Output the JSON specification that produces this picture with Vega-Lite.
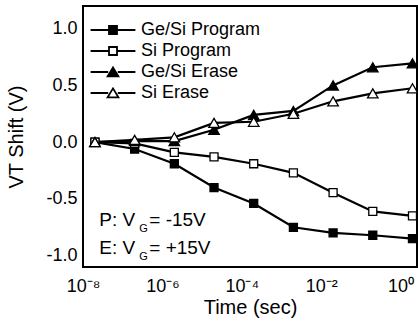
{
  "$schema": "https://vega.github.io/schema/vega-lite/v6.json",
  "width": 334,
  "height": 261,
  "autosize": "none",
  "padding": {"left": 83, "top": 6, "right": 1, "bottom": 63},
  "background": "white",
  "config": {
    "view": {"stroke": "black", "strokeWidth": 2},
    "font": "Liberation Sans",
    "axis": {"grid": false, "domain": false, "tickColor": "black", "tickWidth": 1.5, "labelColor": "black", "titleColor": "black", "labelFont": "Liberation Sans", "titleFont": "Liberation Sans", "titleFontWeight": "normal"}
  },
  "data": {"values": [
    {"time": 2e-8, "vt": 0.0, "series": "Ge/Si Program"},
    {"time": 2e-7, "vt": -0.06, "series": "Ge/Si Program"},
    {"time": 2e-6, "vt": -0.19, "series": "Ge/Si Program"},
    {"time": 2e-5, "vt": -0.40, "series": "Ge/Si Program"},
    {"time": 2e-4, "vt": -0.54, "series": "Ge/Si Program"},
    {"time": 2e-3, "vt": -0.75, "series": "Ge/Si Program"},
    {"time": 2e-2, "vt": -0.80, "series": "Ge/Si Program"},
    {"time": 0.2, "vt": -0.82, "series": "Ge/Si Program"},
    {"time": 2, "vt": -0.85, "series": "Ge/Si Program"},
    {"time": 2e-8, "vt": 0.0, "series": "Si Program"},
    {"time": 2e-7, "vt": -0.01, "series": "Si Program"},
    {"time": 2e-6, "vt": -0.09, "series": "Si Program"},
    {"time": 2e-5, "vt": -0.13, "series": "Si Program"},
    {"time": 2e-4, "vt": -0.19, "series": "Si Program"},
    {"time": 2e-3, "vt": -0.27, "series": "Si Program"},
    {"time": 2e-2, "vt": -0.445, "series": "Si Program"},
    {"time": 0.2, "vt": -0.61, "series": "Si Program"},
    {"time": 2, "vt": -0.65, "series": "Si Program"},
    {"time": 2e-8, "vt": 0.0, "series": "Ge/Si Erase"},
    {"time": 2e-7, "vt": 0.01, "series": "Ge/Si Erase"},
    {"time": 2e-6, "vt": 0.01, "series": "Ge/Si Erase"},
    {"time": 2e-5, "vt": 0.11, "series": "Ge/Si Erase"},
    {"time": 2e-4, "vt": 0.24, "series": "Ge/Si Erase"},
    {"time": 2e-3, "vt": 0.275, "series": "Ge/Si Erase"},
    {"time": 2e-2, "vt": 0.50, "series": "Ge/Si Erase"},
    {"time": 0.2, "vt": 0.66, "series": "Ge/Si Erase"},
    {"time": 2, "vt": 0.695, "series": "Ge/Si Erase"},
    {"time": 2e-8, "vt": 0.0, "series": "Si Erase"},
    {"time": 2e-7, "vt": 0.02, "series": "Si Erase"},
    {"time": 2e-6, "vt": 0.043, "series": "Si Erase"},
    {"time": 2e-5, "vt": 0.17, "series": "Si Erase"},
    {"time": 2e-4, "vt": 0.18, "series": "Si Erase"},
    {"time": 2e-3, "vt": 0.25, "series": "Si Erase"},
    {"time": 2e-2, "vt": 0.36, "series": "Si Erase"},
    {"time": 0.2, "vt": 0.43, "series": "Si Erase"},
    {"time": 2, "vt": 0.475, "series": "Si Erase"}
  ]},
  "resolve": {"axis": {"x": "independent", "y": "independent"}, "scale": {"shape": "independent", "fill": "independent"}},
  "layer": [
    {
      "mark": {"type": "line", "color": "black", "strokeWidth": 2.2},
      "encoding": {
        "x": {"field": "time", "type": "quantitative",
          "scale": {"type": "log", "domain": [1e-8, 2.6], "nice": false},
          "axis": {"orient": "bottom",
            "values": [1e-8,2e-8,3e-8,4e-8,5e-8,6e-8,7e-8,8e-8,9e-8,1e-7,2e-7,3e-7,4e-7,5e-7,6e-7,7e-7,8e-7,9e-7,1e-6,2e-6,3e-6,4e-6,5e-6,6e-6,7e-6,8e-6,9e-6,1e-5,2e-5,3e-5,4e-5,5e-5,6e-5,7e-5,8e-5,9e-5,1e-4,2e-4,3e-4,4e-4,5e-4,6e-4,7e-4,8e-4,9e-4,1e-3,2e-3,3e-3,4e-3,5e-3,6e-3,7e-3,8e-3,9e-3,1e-2,2e-2,3e-2,4e-2,5e-2,6e-2,7e-2,8e-2,9e-2,0.1,0.2,0.3,0.4,0.5,0.6,0.7,0.8,0.9,1,2],
            "tickSize": 0,
            "labelExpr": "abs(log(datum.value)/LN10 - round(log(datum.value)/LN10)) < 0.001 && {'-8':'10⁻⁸','-6':'10⁻⁶','-4':'10⁻⁴','-2':'10⁻²','0':'10⁰'}['' + round(log(datum.value)/LN10)] ? {'-8':'10⁻⁸','-6':'10⁻⁶','-4':'10⁻⁴','-2':'10⁻²','0':'10⁰'}['' + round(log(datum.value)/LN10)] : ''",
            "labelFontSize": 18, "labelPadding": 10, "labelFlush": false, "labelOverlap": false, "labelBound": false,
            "title": "Time (sec)", "titleFontSize": 20, "titlePadding": 2,
            "encode": {"ticks": {"update": {"y": {"value": 0}, "y2": {"signal": "abs(log(datum.value)/LN10 - round(log(datum.value)/LN10)) < 0.001 ? -7 : -4"}}}}
          }
        },
        "y": {"field": "vt", "type": "quantitative",
          "scale": {"domain": [-1.1, 1.2], "nice": false, "zero": false},
          "axis": {"orient": "left",
            "values": [-1, -0.75, -0.5, -0.25, 0, 0.25, 0.5, 0.75, 1],
            "tickSize": 0,
            "labelExpr": "abs(datum.value*2 - round(datum.value*2)) < 0.001 ? (datum.value < 0 ? '-' : '') + format(abs(datum.value), '.1f') : ''",
            "labelFontSize": 18, "labelPadding": 6, "labelOverlap": false, "labelBound": false, "labelFlush": false,
            "title": "VT Shift (V)", "titleFontSize": 20, "titlePadding": 19,
            "encode": {"ticks": {"update": {"x": {"value": 0}, "x2": {"signal": "abs(datum.value*2 - round(datum.value*2)) < 0.001 ? 7 : 4"}}}}
          }
        },
        "detail": {"field": "series"}
      }
    },
    {
      "mark": {"type": "point", "filled": true, "stroke": "black", "strokeWidth": 1.3, "opacity": 1},
      "encoding": {
        "x": {"field": "time", "type": "quantitative",
          "axis": {"orient": "top",
            "values": [1e-8,2e-8,3e-8,4e-8,5e-8,6e-8,7e-8,8e-8,9e-8,1e-7,2e-7,3e-7,4e-7,5e-7,6e-7,7e-7,8e-7,9e-7,1e-6,2e-6,3e-6,4e-6,5e-6,6e-6,7e-6,8e-6,9e-6,1e-5,2e-5,3e-5,4e-5,5e-5,6e-5,7e-5,8e-5,9e-5,1e-4,2e-4,3e-4,4e-4,5e-4,6e-4,7e-4,8e-4,9e-4,1e-3,2e-3,3e-3,4e-3,5e-3,6e-3,7e-3,8e-3,9e-3,1e-2,2e-2,3e-2,4e-2,5e-2,6e-2,7e-2,8e-2,9e-2,0.1,0.2,0.3,0.4,0.5,0.6,0.7,0.8,0.9,1,2],
            "labels": false, "title": null, "tickSize": 0,
            "encode": {"ticks": {"update": {"y": {"value": 0}, "y2": {"signal": "abs(log(datum.value)/LN10 - round(log(datum.value)/LN10)) < 0.001 ? 7 : 4"}}}}
          }
        },
        "y": {"field": "vt", "type": "quantitative",
          "axis": {"orient": "right",
            "values": [-1, -0.75, -0.5, -0.25, 0, 0.25, 0.5, 0.75, 1],
            "labels": false, "title": null, "tickSize": 0,
            "encode": {"ticks": {"update": {"x": {"value": 0}, "x2": {"signal": "abs(datum.value*2 - round(datum.value*2)) < 0.001 ? -7 : -4"}}}}
          }
        },
        "shape": {"field": "series", "type": "nominal",
          "scale": {"domain": ["Ge/Si Program", "Si Program", "Ge/Si Erase", "Si Erase"], "range": ["square", "square", "triangle-up", "triangle-up"]},
          "legend": null
        },
        "fill": {"field": "series", "type": "nominal",
          "scale": {"domain": ["Ge/Si Program", "Si Program", "Ge/Si Erase", "Si Erase"], "range": ["black", "white", "black", "white"]},
          "legend": null
        },
        "size": {"condition": {"test": "indexof(datum.series, 'Erase') >= 0", "value": 110}, "value": 64}
      }
    },
    {
      "transform": [{"filter": "false"}],
      "mark": {"type": "point", "filled": true, "stroke": "black", "strokeWidth": 1.8, "opacity": 1},
      "encoding": {
        "x": {"field": "time", "type": "quantitative", "axis": null},
        "y": {"field": "vt", "type": "quantitative", "axis": null},
        "shape": {"field": "series", "type": "nominal",
          "scale": {"domain": ["Ge/Si Program", "Si Program", "Ge/Si Erase", "Si Erase"],
            "range": ["M-5.6,0H-1M1,0H5.6M-1,-1H1V1H-1Z", "M-5.6,0H-1M1,0H5.6M-1,-1H1V1H-1Z", "M-5.6,0H-1.2M1.2,0H5.6M0,-1.15L1.35,1.1H-1.35Z", "M-5.6,0H-1.2M1.2,0H5.6M0,-1.15L1.35,1.1H-1.35Z"]},
          "legend": {"title": null, "orient": "none", "legendX": 4, "legendY": 15,
            "labelFont": "Liberation Sans", "labelFontSize": 18, "labelColor": "black", "labelOffset": 19,
            "symbolSize": 64, "symbolOffset": 17, "symbolStrokeWidth": 1.8, "symbolOpacity": 1, "symbolFillColor": "white", "rowPadding": 3}
        },
        "fill": {"field": "series", "type": "nominal",
          "scale": {"domain": ["Ge/Si Program", "Si Program", "Ge/Si Erase", "Si Erase"], "range": ["black", "white", "black", "white"]},
          "legend": {"title": null, "orient": "none", "legendX": 4, "legendY": 15,
            "labelFont": "Liberation Sans", "labelFontSize": 18, "labelColor": "black", "labelOffset": 19,
            "symbolSize": 64, "symbolOffset": 17, "symbolStrokeWidth": 1.8, "symbolOpacity": 1, "rowPadding": 3}
        }
      }
    },
    {
      "data": {"values": [{}]},
      "mark": {"type": "text", "align": "left", "baseline": "middle", "fontSize": 19, "fontWeight": "normal", "font": "Liberation Sans", "fill": "black", "text": "P: V"},
      "encoding": {"x": {"datum": 2.57e-8, "type": "quantitative", "axis": null}, "y": {"datum": -0.685, "type": "quantitative", "axis": null}}
    },
    {
      "data": {"values": [{}]},
      "mark": {"type": "text", "align": "left", "baseline": "middle", "fontSize": 11, "fontWeight": "normal", "font": "Liberation Sans", "fill": "black", "text": "G", "dx": 40, "dy": 9},
      "encoding": {"x": {"datum": 2.57e-8, "type": "quantitative", "axis": null}, "y": {"datum": -0.685, "type": "quantitative", "axis": null}}
    },
    {
      "data": {"values": [{}]},
      "mark": {"type": "text", "align": "left", "baseline": "middle", "fontSize": 19, "fontWeight": "normal", "font": "Liberation Sans", "fill": "black", "text": "= -15V", "dx": 50},
      "encoding": {"x": {"datum": 2.57e-8, "type": "quantitative", "axis": null}, "y": {"datum": -0.685, "type": "quantitative", "axis": null}}
    },
    {
      "data": {"values": [{}]},
      "mark": {"type": "text", "align": "left", "baseline": "middle", "fontSize": 19, "fontWeight": "normal", "font": "Liberation Sans", "fill": "black", "text": "E: V"},
      "encoding": {"x": {"datum": 2.57e-8, "type": "quantitative", "axis": null}, "y": {"datum": -0.935, "type": "quantitative", "axis": null}}
    },
    {
      "data": {"values": [{}]},
      "mark": {"type": "text", "align": "left", "baseline": "middle", "fontSize": 11, "fontWeight": "normal", "font": "Liberation Sans", "fill": "black", "text": "G", "dx": 40, "dy": 9},
      "encoding": {"x": {"datum": 2.57e-8, "type": "quantitative", "axis": null}, "y": {"datum": -0.935, "type": "quantitative", "axis": null}}
    },
    {
      "data": {"values": [{}]},
      "mark": {"type": "text", "align": "left", "baseline": "middle", "fontSize": 19, "fontWeight": "normal", "font": "Liberation Sans", "fill": "black", "text": "= +15V", "dx": 50},
      "encoding": {"x": {"datum": 2.57e-8, "type": "quantitative", "axis": null}, "y": {"datum": -0.935, "type": "quantitative", "axis": null}}
    }
  ]
}
